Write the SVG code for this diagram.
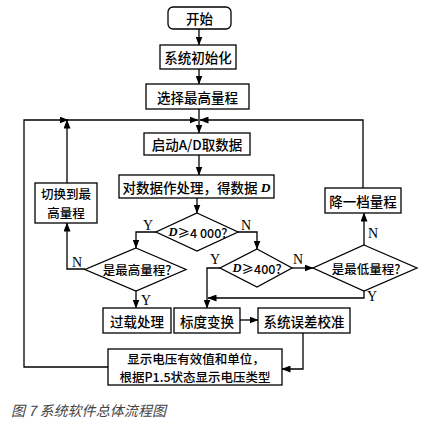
<svg xmlns="http://www.w3.org/2000/svg" width="430" height="427" viewBox="0 0 430 427">
<defs>
<marker id="ah" markerWidth="9" markerHeight="7" refX="8.5" refY="3.5" orient="auto" markerUnits="userSpaceOnUse">
<path d="M0,0 L9,3.5 L0,7 Z" fill="#000"/>
</marker>
<style>
.box{fill:#fff;stroke:#000;stroke-width:1.3}
.ln{fill:none;stroke:#000;stroke-width:1.3}
.t{font-family:"Noto Sans CJK SC","Noto Sans",sans-serif;font-size:13.5px;font-weight:500;fill:#000;text-anchor:middle;dominant-baseline:central}
.s{font-size:12.5px}
.yn{font-family:"Liberation Serif",serif;font-size:14px;fill:#000;text-anchor:middle}
.d{font-family:"Liberation Serif",serif;font-style:italic;font-weight:bold}
.cap{font-family:"Noto Sans CJK SC",sans-serif;font-size:14px;font-style:italic;fill:#444}
</style>
</defs>
<rect width="430" height="427" fill="#fff"/>
<g id="connectors">
<path class="ln" d="M199,29 V45" marker-end="url(#ah)"/>
<path class="ln" d="M199,69 V84" marker-end="url(#ah)"/>
<path class="ln" d="M199,109 V133" marker-end="url(#ah)"/>
<path class="ln" d="M199,155 V175" marker-end="url(#ah)"/>
<path class="ln" d="M197,198 V213" marker-end="url(#ah)"/>
<path class="ln" d="M156,232 H136 V248" marker-end="url(#ah)"/>
<path class="ln" d="M238,232 H257 V249" marker-end="url(#ah)"/>
<path class="ln" d="M85,269 H67 V223" marker-end="url(#ah)"/>
<path class="ln" d="M67,183 V120" marker-end="url(#ah)"/>
<path class="ln" d="M136,291 V308" marker-end="url(#ah)"/>
<path class="ln" d="M220,268 H207 V308" marker-end="url(#ah)"/>
<path class="ln" d="M292,268 H313" marker-end="url(#ah)"/>
<path class="ln" d="M364,245 V213" marker-end="url(#ah)"/>
<path class="ln" d="M364,291 V298 H208" marker-end="url(#ah)"/>
<path class="ln" d="M363,188 V120 H200" marker-end="url(#ah)"/>
<path class="ln" d="M240,320 H258" marker-end="url(#ah)"/>
<path class="ln" d="M303,333 V369 H282" marker-end="url(#ah)"/>
<path class="ln" d="M108,367 H24 V120 H68" marker-end="url(#ah)"/>
<path class="ln" d="M66,120 H198" marker-end="url(#ah)"/>
</g>
<g id="start"><rect class="box" x="168" y="7" width="63" height="22" rx="5"/><text class="t" x="199.5" y="18">开始</text></g>
<g id="init"><rect class="box" x="160" y="45" width="76" height="24"/><text class="t" x="198" y="57">系统初始化</text></g>
<g id="selmax"><rect class="box" x="146" y="84" width="103" height="25"/><text class="t" x="197.5" y="96.5">选择最高量程</text></g>
<g id="adc"><rect class="box" x="144" y="133" width="106" height="22"/><text class="t" x="197" y="144">启动A/D取数据</text></g>
<g id="proc"><rect class="box" x="119" y="175" width="155" height="23"/><text class="t" x="196.5" y="186.5">对数据作处理，得数据 <tspan class="d">D</tspan></text></g>
<g id="d4000"><polygon class="box" points="197,213 238,232 197,251 156,232"/><text class="t s" x="198" y="232"><tspan class="d">D</tspan>≥4 000?</text></g>
<g id="ismax"><polygon class="box" points="136,248 186,269.5 136,291 85,269.5"/><text class="t s" x="137" y="269.5">是最高量程?</text></g>
<g id="switch"><rect class="box" x="35" y="183" width="62" height="40"/><text class="t s" x="66" y="193.5">切换到最</text><text class="t s" x="66" y="212.5">高量程</text></g>
<g id="overload"><rect class="box" x="103" y="308" width="68" height="25"/><text class="t" x="137" y="320.5">过载处理</text></g>
<g id="d400"><polygon class="box" points="257,249 292,268 257,287 220,268"/><text class="t s" x="257" y="268"><tspan class="d">D</tspan>≥400?</text></g>
<g id="ismin"><polygon class="box" points="364,245 417,268 364,291 313,268"/><text class="t s" x="366" y="268">是最低量程?</text></g>
<g id="down"><rect class="box" x="325" y="188" width="76" height="25"/><text class="t" x="363" y="200.5">降一档量程</text></g>
<g id="scale"><rect class="box" x="174" y="308" width="66" height="25"/><text class="t" x="207" y="320.5">标度变换</text></g>
<g id="calib"><rect class="box" x="258" y="308" width="92" height="25"/><text class="t" x="304" y="320.5">系统误差校准</text></g>
<g id="display"><rect class="box" x="108" y="349" width="174" height="36"/><text class="t s" x="196" y="358.5">显示电压有效值和单位，</text><text class="t s" x="195" y="376">根据P1.5状态显示电压类型</text></g>
<g id="labels">
<text class="yn" x="148" y="230">Y</text>
<text class="yn" x="246" y="230">N</text>
<text class="yn" x="77" y="267">N</text>
<text class="yn" x="146" y="305">Y</text>
<text class="yn" x="215" y="264">Y</text>
<text class="yn" x="298" y="264">N</text>
<text class="yn" x="373" y="238">N</text>
<text class="yn" x="372" y="301">Y</text>
</g>
<text class="cap" x="11" y="416" textLength="155">图 7 系统软件总体流程图</text>
</svg>
